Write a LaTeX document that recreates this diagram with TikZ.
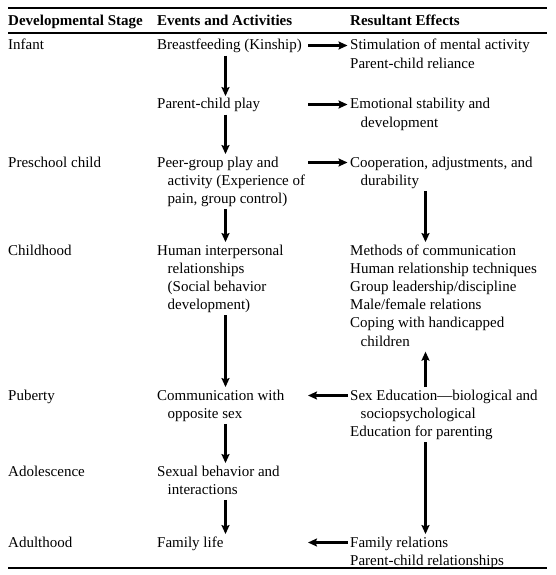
\documentclass[tikz,border=0pt]{standalone}
\usepackage{fontspec}
\setmainfont{Liberation Serif}
\usetikzlibrary{arrows.meta}
\newcommand{\blk}[1]{\begin{tabular}[t]{@{}l@{}}#1\end{tabular}}
\newcommand{\ind}{\hspace*{10.5pt}}
\begin{document}
\begin{tikzpicture}[x=1pt,y=-1pt,
  every node/.style={inner sep=0pt,font=\fontsize{15}{18.2}\selectfont},
  txt/.style={anchor=base west},
  varr/.style={draw=black,line width=3.2pt,-{Stealth[length=9pt,width=8pt,inset=1.5pt]}},
  harr/.style={draw=black,line width=2.4pt,-{Stealth[length=9pt,width=8pt,inset=1.5pt]}},
  rulethick/.style={line width=2pt},
  rulethin/.style={line width=1.2pt}]
\useasboundingbox (0,0) rectangle (555,575);
\coordinate (colB) at (225.5,0);
\coordinate (colC) at (425.5,0);
\coordinate (hx) at (308,0);
% rules
\draw[rulethick] (8,8) -- (547,8);
\draw[rulethin] (8,33) -- (547,33);
\draw[rulethin] (8,568) -- (547,568);
% headers
\node[txt] (hA) at (8,26) {\textbf{Developmental Stage}};
\node[txt] (hB) at (157,26) {\textbf{Events and Activities}};
\node[txt] (hC) at (350,26) {\textbf{Resultant Effects}};
% stages
\node[txt] (s1) at (8,50) {Infant};
\node[txt] (s2) at (8,167) {Preschool child};
\node[txt] (s3) at (8,255) {Childhood};
\node[txt] (s4) at (8,400) {Puberty};
\node[txt] (s5) at (8,476) {Adolescence};
\node[txt] (s6) at (8,547) {Adulthood};
% events
\node[txt] (bf) at (157,50) {\blk{Breastfeeding (Kinship)}};
\node[txt] (pcp) at (157,109) {\blk{Parent-child play}};
\node[txt] (peer) at (157,167) {\blk{Peer-group play and\\\ind activity (Experience of\\\ind pain, group control)}};
\node[txt] (hum) at (157,255) {\blk{Human interpersonal\\\ind relationships\\\ind (Social behavior\\\ind development)}};
\node[txt] (comm) at (157,400) {\blk{Communication with\\\ind opposite sex}};
\node[txt] (sexb) at (157,476) {\blk{Sexual behavior and\\\ind interactions}};
\node[txt] (fam) at (157,547) {\blk{Family life}};
% effects
\node[txt] (stim) at (350,50) {\blk{Stimulation of mental activity\\Parent-child reliance}};
\node[txt] (emo) at (350,109) {\blk{Emotional stability and\\\ind development}};
\node[txt] (coop) at (350,167) {\blk{Cooperation, adjustments, and\\\ind durability}};
\node[txt] (meth) at (350,255) {\blk{Methods of communication\\Human relationship techniques\\Group leadership/discipline\\Male/female relations\\Coping with handicapped\\\ind children}};
\node[txt] (sexed) at (350,400) {\blk{Sex Education—biological and\\\ind sociopsychological\\Education for parenting}};
\node[txt] (famrel) at (350,547) {\blk{Family relations\\Parent-child relationships}};
% vertical arrows, events column
\draw[varr] (bf.south -| colB) -- (pcp.north -| colB);
\draw[varr] (pcp.south -| colB) -- (peer.north -| colB);
\draw[varr] (peer.south -| colB) -- (hum.north -| colB);
\draw[varr] (hum.south -| colB) -- (comm.north -| colB);
\draw[varr] (comm.south -| colB) -- (sexb.north -| colB);
\draw[varr] (sexb.south -| colB) -- (fam.north -| colB);
% vertical arrows, effects column
\draw[varr] (coop.south -| colC) -- (meth.north -| colC);
\draw[varr] (sexed.north -| colC) -- (meth.south -| colC);
\draw[varr] (sexed.south -| colC) -- (famrel.north -| colC);
% horizontal arrows
\draw[harr,shorten >=2.5pt] ([yshift=4.5pt]bf.base -| hx) -- ([yshift=4.5pt]stim.base west);
\draw[harr,shorten >=2.5pt] ([yshift=4.5pt]pcp.base -| hx) -- ([yshift=4.5pt]emo.base west);
\draw[harr,shorten >=2.5pt] ([yshift=4.5pt]peer.base -| hx) -- ([yshift=4.5pt]coop.base west);
\draw[harr,shorten <=2.5pt] ([yshift=4.5pt]sexed.base west) -- ([yshift=4.5pt]comm.base -| hx);
\draw[harr,shorten <=2.5pt] ([yshift=4.5pt]famrel.base west) -- ([yshift=4.5pt]fam.base -| hx);
\end{tikzpicture}
\end{document}
